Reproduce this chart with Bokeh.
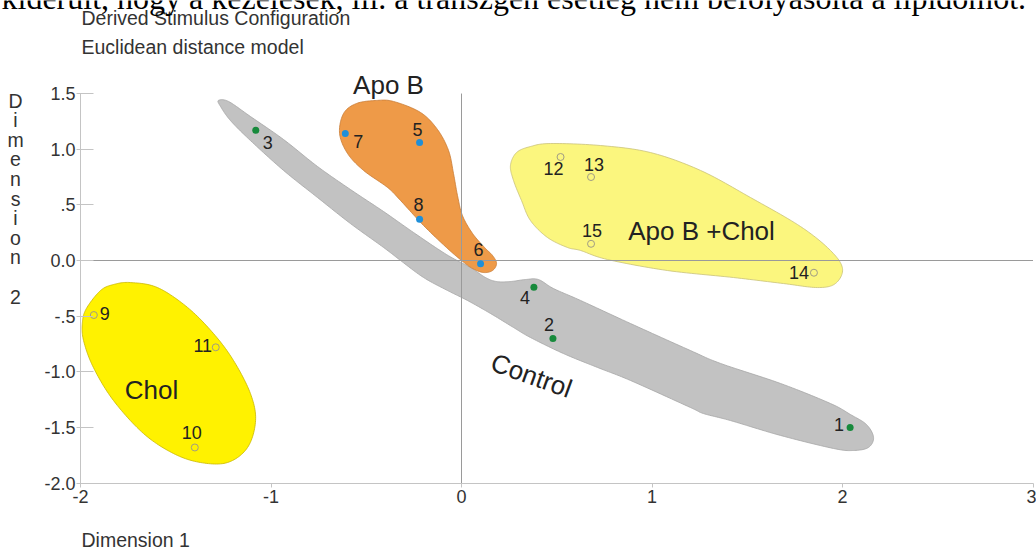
import numpy as np
from bokeh.plotting import figure
from bokeh.models import Range1d, LinearAxis, FixedTicker
from bokeh.core.properties import value
from bokeh.embed import file_html
from bokeh.resources import INLINE

# ---- stimulus coordinates (two-dimensional Euclidean solution) ----
stim_id = ["1", "2", "3", "4", "5", "6", "7", "8", "9", "10", "11", "12", "13", "14", "15"]
dim1 = [2.04, 0.48, -1.08, 0.38, -0.22, 0.10, -0.61, -0.22, -1.93, -1.40, -1.29, 0.52, 0.68, 1.85, 0.68]
dim2 = [-1.50, -0.70, 1.17, -0.24, 1.06, -0.03, 1.14, 0.37, -0.49, -1.68, -0.78, 0.93, 0.75, -0.11, 0.15]
group = ["Control"] * 4 + ["Apo B"] * 4 + ["Chol"] * 3 + ["Apo B +Chol"] * 4

x_ticks = [-2, -1, 0, 1, 2, 3]
x_tick_labels = ["-2", "-1", "0", "1", "2", "3"]
y_ticks = [-2.0, -1.5, -1.0, -0.5, 0.0, 0.5, 1.0, 1.5]
y_tick_labels = ["-2.0", "-1.5", "-1.0", "-.5", "0.0", ".5", "1.0", "1.5"]

# ---- hand-drawn group outlines (data coordinates, smoothed below) ----
control_x = [-1.276, -1.223, -1.108, -0.934, -0.756, -0.583, -0.409, -0.252, -0.079, 0.047, 0.126,
             0.184, 0.257, 0.336, 0.404, 0.483, 0.625, 0.887, 1.202, 1.360, 1.675, 1.937, 2.042,
             2.126, 2.163, 2.136, 2.058, 1.953, 1.675, 1.412, 1.270, 1.202, 0.887, 0.714, 0.535,
             0.362, 0.273, 0.152, 0.031, -0.073, -0.199, -0.320, -0.409, -0.583, -0.756, -0.934,
             -1.108, -1.213, -1.265]
control_y = [1.438, 1.429, 1.294, 1.087, 0.845, 0.638, 0.440, 0.252, 0.054, -0.063, -0.153,
             -0.189, -0.189, -0.171, -0.171, -0.252, -0.359, -0.566, -0.809, -0.925, -1.105, -1.285,
             -1.384, -1.474, -1.590, -1.680, -1.707, -1.689, -1.572, -1.438, -1.375, -1.321, -1.078,
             -0.961, -0.836, -0.692, -0.602, -0.476, -0.359, -0.270, -0.153, 0.000, 0.117, 0.332,
             0.566, 0.809, 1.078, 1.258, 1.384]

apob_x = [-0.446, -0.357, -0.215, -0.126, -0.068, -0.042, -0.021, 0.005, 0.058, 0.121, 0.163, 0.184,
          0.163, 0.115, 0.058, 0.000, -0.079, -0.199, -0.320, -0.388, -0.514, -0.598, -0.640,
          -0.619, -0.551]
apob_y = [1.438, 1.429, 1.330, 1.177, 0.988, 0.782, 0.584, 0.404, 0.243, 0.117, 0.045, -0.027,
          -0.090, -0.108, -0.072, 0.000, 0.117, 0.314, 0.539, 0.656, 0.809, 0.961, 1.141, 1.321,
          1.411]

apobchol_x = [0.257, 0.289, 0.362, 0.467, 0.730, 0.992, 1.255, 1.517, 1.780, 1.937, 2.000, 1.963,
              1.869, 1.690, 1.428, 1.081, 0.766, 0.625, 0.556, 0.451, 0.362, 0.315, 0.273]
apobchol_y = [0.854, 0.970, 1.024, 1.051, 1.033, 0.970, 0.809, 0.566, 0.305, 0.090, -0.072, -0.207,
              -0.243, -0.207, -0.153, -0.090, 0.009, 0.090, 0.117, 0.207, 0.359, 0.539, 0.719]

chol_x = [-1.738, -1.596, -1.438, -1.302, -1.197, -1.108, -1.081, -1.123, -1.228, -1.370, -1.512,
          -1.669, -1.827, -1.932, -1.984, -1.990, -1.969, -1.895, -1.827]
chol_y = [-0.198, -0.243, -0.422, -0.656, -0.898, -1.195, -1.438, -1.680, -1.815, -1.815, -1.734,
          -1.555, -1.258, -0.962, -0.719, -0.557, -0.431, -0.270, -0.216]

# ---- canvas geometry: plot frame fills the whole page ----
W, H = 1036, 551
X0, SX = 461.0, 190.5   # pixel column of dim1 = 0, pixels per unit
Y0, SY = 260.0, 111.3   # pixel row of dim2 = 0, pixels per unit
LIFT = 0.35             # baseline correction of the text renderer, in em


def dx(px):
    return (px - X0) / SX


def dy(py):
    return (Y0 - py) / SY


def base(py, size):
    """Anchor that puts an alphabetic baseline on pixel row py."""
    return dy(py - LIFT * size)


def smooth(xs, ys, n=14):
    """Closed Catmull-Rom curve through the outline vertices."""
    pts = list(zip(xs, ys))
    N = len(pts)
    ox, oy = [], []
    for i in range(N):
        p0, p1, p2, p3 = pts[i - 1], pts[i], pts[(i + 1) % N], pts[(i + 2) % N]
        for t in np.linspace(0, 1, n, endpoint=False):
            t2, t3 = t * t, t * t * t
            for k, out in ((0, ox), (1, oy)):
                out.append(0.5 * (2 * p1[k] + (-p0[k] + p2[k]) * t
                                  + (2 * p0[k] - 5 * p1[k] + 4 * p2[k] - p3[k]) * t2
                                  + (-p0[k] + 3 * p1[k] - 3 * p2[k] + p3[k]) * t3))
    return ox, oy


p = figure(width=W, height=H, x_range=Range1d(dx(0), dx(W)), y_range=Range1d(dy(H), dy(0)),
           x_axis_type=None, y_axis_type=None, toolbar_location=None, output_backend="svg",
           min_border=0, min_border_left=0, min_border_right=0, min_border_top=0, min_border_bottom=0)
p.outline_line_color = None
p.background_fill_color = "white"
p.border_fill_color = "white"

# group regions
for xs, ys, fill, line in [
    (control_x, control_y, "#c2c2c2", "#a6a6a6"),
    (apob_x, apob_y, "#ee9a48", "#c97c36"),
    (apobchol_x, apobchol_y, "#fbf67e", "#c9c27a"),
    (chol_x, chol_y, "#fff200", "#c9b800"),
]:
    sx, sy = smooth(xs, ys)
    p.patch(sx, sy, fill_color=fill, line_color=line, line_width=0.8)

# reference lines through the origin
p.segment(x0=[x_ticks[0], 0], y0=[0, y_ticks[0]], x1=[x_ticks[-1], 0], y1=[0, y_ticks[-1]],
          line_color="#9a9a9a", line_width=1)

# axes drawn at the lower-left corner of the configuration
axis_col = "#c4c4c4"
yaxis = LinearAxis(fixed_location=x_ticks[0], ticker=FixedTicker(ticks=y_ticks),
                   bounds=(y_ticks[0], y_ticks[-1]))
yaxis.major_label_overrides = {float(t): s for t, s in zip(y_ticks, y_tick_labels)}
xaxis = LinearAxis(fixed_location=y_ticks[0], ticker=FixedTicker(ticks=x_ticks),
                   bounds=(x_ticks[0], x_ticks[-1]))
xaxis.major_label_overrides = {float(t): s for t, s in zip(x_ticks, x_tick_labels)}
for ax in (xaxis, yaxis):
    ax.axis_line_color = axis_col
    ax.major_tick_line_color = axis_col
    ax.minor_tick_line_color = None
    ax.major_tick_out = 4
    ax.major_label_text_font = "Liberation Sans"
    ax.major_label_text_font_size = "18px"
    ax.major_label_text_color = "#333333"
yaxis.major_tick_in = 13
yaxis.major_label_standoff = 1
xaxis.major_tick_in = 0
xaxis.major_label_standoff = 3
p.add_layout(yaxis, "left")
p.add_layout(xaxis, "below")

# stimulus points
col = {"Control": "#178a3c", "Apo B": "#1f8fd8"}
filled = [i for i, g in enumerate(group) if g in col]
hollow = [i for i, g in enumerate(group) if g not in col]
p.scatter([dim1[i] for i in filled], [dim2[i] for i in filled], size=7,
          fill_color=[col[group[i]] for i in filled], line_color=None)
p.scatter([dim1[i] for i in hollow], [dim2[i] for i in hollow], size=7,
          fill_color=None, line_color="#a09c84", line_width=1)

# stimulus numbers, offset in pixels from their points
off_x = [-11, -4, 12, -9, -2, -2, 13, -1, 11, -3, -13, -7, 3, -15, 1]
off_y = [-3, -14, 12, 10, -13, -14, 8, -15, -2, -15, -2, 12, -13, 0, -13]
p.text(dim1, dim2, text=stim_id, x_offset=off_x, y_offset=off_y, text_align="center",
       text_baseline="middle", text_font=value("Liberation Sans"), text_font_size="18px",
       text_color="#222222")

# group names
gfont = value("Liberation Sans")
gsize = 26
p.text([dx(388), dx(701), dx(151)], [base(93.5, gsize), base(240, gsize), base(398.5, gsize)],
       text=["Apo B", "Apo B +Chol", "Chol"],
       text_align="center", text_baseline="alphabetic", text_font=gfont,
       text_font_size=f"{gsize}px", text_color="#222222")
p.text([dx(531)], [dy(375)], text=["Control"], angle=-0.345, text_align="center",
       text_baseline="alphabetic", text_font=gfont, text_font_size=f"{gsize}px",
       text_color="#222222")

# titles and axis names
tfont = value("Liberation Sans")
tsize = 19.5
p.text([dx(81), dx(81), dx(81)], [base(24, tsize), base(53, tsize), base(546.5, tsize)],
       text=["Derived Stimulus Configuration", "Euclidean distance model", "Dimension 1"],
       text_align="left", text_baseline="alphabetic", text_font=tfont,
       text_font_size=f"{tsize}px", text_color="#333333")
dim2_letters = list("Dimension 2")
p.text([dx(15)] * len(dim2_letters),
       [base(107 + 19.6 * i, tsize) for i in range(len(dim2_letters))],
       text=dim2_letters, text_align="center", text_baseline="alphabetic", text_font=tfont,
       text_font_size=f"{tsize}px", text_color="#333333")

# running text of the surrounding page, cut by the top edge
p.text([dx(1)], [dy(1)],
       text=["kiderült, hogy a kezelések, ill. a transzgén esetleg nem befolyásolta a lipidomot."],
       y_offset=-4, text_align="left", text_baseline="alphabetic",
       text_font=value("Liberation Serif"), text_font_size="32px", text_color="#000000")

open("out.html", "w").write(file_html(p, INLINE))
